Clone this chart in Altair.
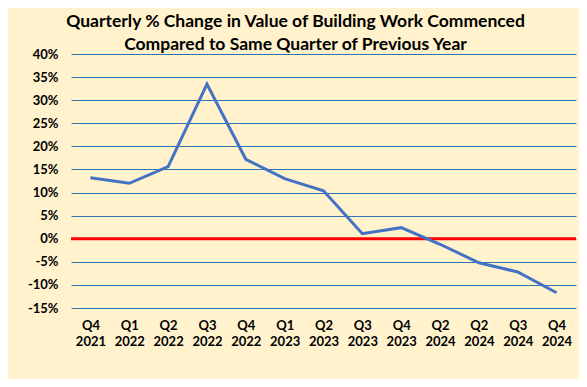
import altair as alt
import pandas as pd

quarters = ["Q4", "Q1", "Q2", "Q3", "Q4", "Q1", "Q2", "Q3", "Q4", "Q2", "Q2", "Q3", "Q4"]
years = ["2021", "2022", "2022", "2022", "2022", "2023", "2023", "2023", "2023", "2024", "2024", "2024", "2024"]
pct_change = [13.2, 12.0, 15.6, 33.5, 17.2, 13.0, 10.4, 1.1, 2.4, -1.2, -5.2, -7.2, -11.7]
y_ticks = [-15, -10, -5, 0, 5, 10, 15, 20, 25, 30, 35, 40]

df = pd.DataFrame({
    "i": list(range(len(pct_change))),
    "q": quarters,
    "yr": years,
    "v": pct_change,
})

label_arr = "[" + ",".join("['%s','%s']" % (q, y) for q, y in zip(quarters, years)) + "]"

FONT = "Lato"

x_enc = alt.X(
    "i:O",
    scale=alt.Scale(paddingInner=0, paddingOuter=0),
    axis=alt.Axis(
        title=None, labelAngle=0, labelExpr=label_arr + "[datum.value]",
        labelFont=FONT, labelFontSize=13, labelFontWeight="bold", labelColor="black",
        labelLineHeight=16, labelPadding=11, ticks=False, domain=False, grid=False,
        labelBaseline="top", labelOverlap=False,
    ),
)
y_scale = alt.Scale(domain=[-15, 40], nice=False)
y_axis = alt.Axis(
    title=None, values=y_ticks, labelExpr="datum.value + '%'",
    labelFont=FONT, labelFontSize=13, labelFontWeight="bold", labelColor="black",
    labelPadding=13, ticks=False, domain=False, grid=True, labelOverlap=False,
    gridColor="#2E75B6", gridWidth=1, gridOpacity=1,
)
y_enc = alt.Y("v:Q", scale=y_scale, axis=y_axis)

zero = alt.Chart(pd.DataFrame({"v": [0]})).mark_rule(color="#FF0000", strokeWidth=3).encode(
    y=alt.Y("v:Q", scale=y_scale, axis=y_axis)
)

line = alt.Chart(df).mark_line(color="#4472C4", strokeWidth=3).encode(
    x=x_enc, y=y_enc
)

chart = alt.layer(zero, line).properties(
    width=505, height=254,
    background="#FFF2CC",
    autosize=alt.AutoSizeParams(type="none"),
    padding={"left": 63, "top": 46, "right": 3, "bottom": 71},
    title=alt.TitleParams(
        text=["Quarterly % Change in Value of Building Work Commenced",
              "Compared to Same Quarter of Previous Year"],
        font=FONT, fontSize=17.5, fontWeight="bold", color="black",
        anchor="middle", dx=-28, lineHeight=23, offset=-5,
    ),
).configure_view(stroke=None)

chart.save("out.html", embed_options={"renderer": "svg", "actions": False})
